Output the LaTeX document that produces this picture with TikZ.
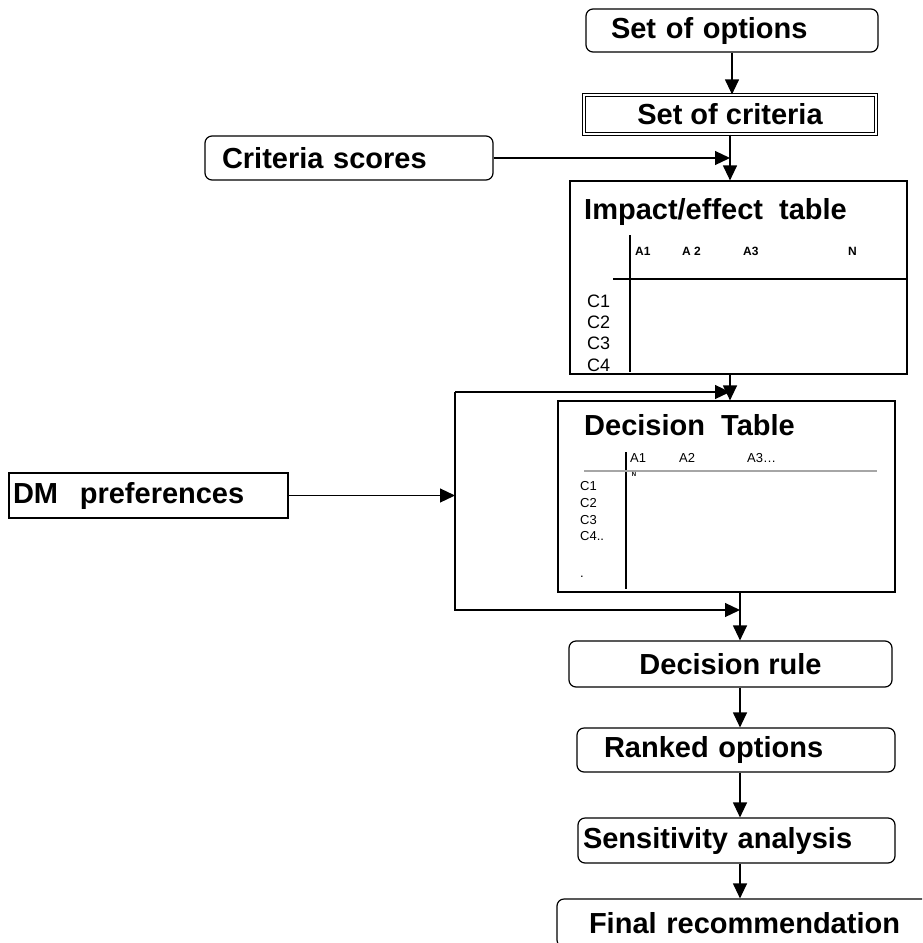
\documentclass[tikz,border=0pt]{standalone}
\usepackage{fontspec}
\setmainfont{Liberation Sans}
\usetikzlibrary{arrows.meta,positioning,calc}

\begin{document}
\begin{tikzpicture}[
    x=1pt, y=-1pt,
    box/.style={draw, line width=1.2pt, inner ysep=0pt, font=\bfseries\fontsize{29}{31}\selectfont},
    rbox/.style={box, rounded corners=7pt},
    tbl/.style={draw, line width=1.2pt, inner sep=0pt},
    ttl/.style={inner sep=0pt, font=\bfseries\fontsize{29}{31}\selectfont},
    ihead/.style={inner sep=0pt, font=\bfseries\fontsize{12}{13}\selectfont},
    irow/.style={inner sep=0pt, font=\fontsize{18}{20}\selectfont},
    dhead/.style={inner sep=0pt, font=\fontsize{13}{14}\selectfont},
    drow/.style={inner sep=0pt, font=\fontsize{13}{14}\selectfont},
    arr/.style={-{Triangle[length=15pt,width=14pt]}, line width=1.2pt}
]
\path[use as bounding box, clip] (0,0) rectangle (922,943);

% main column
\node[rbox, text width=242pt, inner xsep=25pt, minimum height=43pt, align=left] (opts) at (732,30.5) {Set of options};
\node[box, double, double distance=2pt, minimum width=292pt, minimum height=39pt] (crit) at (730,114.5) {Set of criteria};
\node[rbox, text width=254pt, inner xsep=17pt, minimum height=44pt, align=left] (scores) at (349,158) {Criteria scores};
\node[tbl, minimum width=337pt, minimum height=193pt] (impact) at (738.5,277.5) {};
\node[tbl, minimum width=337pt, minimum height=191pt] (dtable) at (726.5,496.5) {};
\node[box, text width=271pt, inner xsep=4pt, minimum height=45pt, align=left] (dm) at (148.5,495.5) {DM\hspace{0.75em}preferences};
\node[rbox, minimum width=323pt, minimum height=46pt] (rule) at (730.5,664) {Decision rule};
\node[rbox, text width=264pt, inner xsep=27pt, minimum height=44pt, align=left] (ranked) at (736,750) {Ranked options};
\node[rbox, text width=307pt, inner xsep=5pt, minimum height=45pt, align=left] (sens) at (736.5,840.5) {Sensitivity analysis};
\node[rbox, text width=316pt, inner xsep=32pt, minimum height=48pt, align=left] (final) at (747,923) {Final recommendation};

% impact/effect table
\node[ttl, anchor=base west] (imptitle) at (584,219) {Impact/effect\ \ table};
\draw[line width=1.2pt] (630,235) -- (630,372);
\draw[line width=1.2pt] (613,279) -- (impact.east |- 0,279);
\foreach \t/\x [count=\i] in {A1/635, A 2/682, A3/743, N/848}
    \node[ihead, anchor=base west] (ih\i) at (\x,255) {\t};
\foreach \t/\y [count=\i] in {C1/307, C2/328, C3/349, C4/371}
    \node[irow, anchor=base west] (ir\i) at (587,\y) {\t};

% decision table
\node[ttl, anchor=base west] (dectitle) at (584,435) {Decision\ \ Table};
\draw[line width=1.2pt] (626,452) -- (626,589);
\draw[gray!70, line width=2.5pt] (584,471) -- (877,471);
\foreach \t/\x [count=\i] in {A1/630, A2/679, A3\ldots/747}
    \node[dhead, anchor=base west] (dh\i) at (\x,462) {\t};
\node[inner sep=0pt, font=\bfseries\fontsize{6}{7}\selectfont] (dn) at (634,474) {N};
\foreach \t/\y [count=\i] in {C1/490, C2/507, C3/524, C4{.}{.}/540, {.}/577}
    \node[drow, anchor=base west] (dr\i) at (580,\y) {\t};

% connectors
\coordinate (lt) at (455,392);
\coordinate (lb) at (455,610);
\coordinate (col) at ($(dtable.south)+(13.5,0)$);

\draw[arr] (opts.south) -- (opts.south |- crit.north);
\draw[arr] (crit.south) -- (crit.south |- impact.north);
\draw[arr] (scores.east) -- (crit.south |- scores.east);
\draw[arr] (crit.south |- impact.south) -- (crit.south |- dtable.north);
\draw[arr] (lt) -- (crit.south |- lt);
\draw[arr] (lt) -- (lb) -- (col |- lb);
\draw[arr] (dm.east) -- (lt |- dm.east);
\draw[arr] (col) -- (col |- rule.north);
\draw[arr] (col |- rule.south) -- (col |- ranked.north);
\draw[arr] (col |- ranked.south) -- (col |- sens.north);
\draw[arr] (col |- sens.south) -- (col |- final.north);
\end{tikzpicture}
\end{document}
